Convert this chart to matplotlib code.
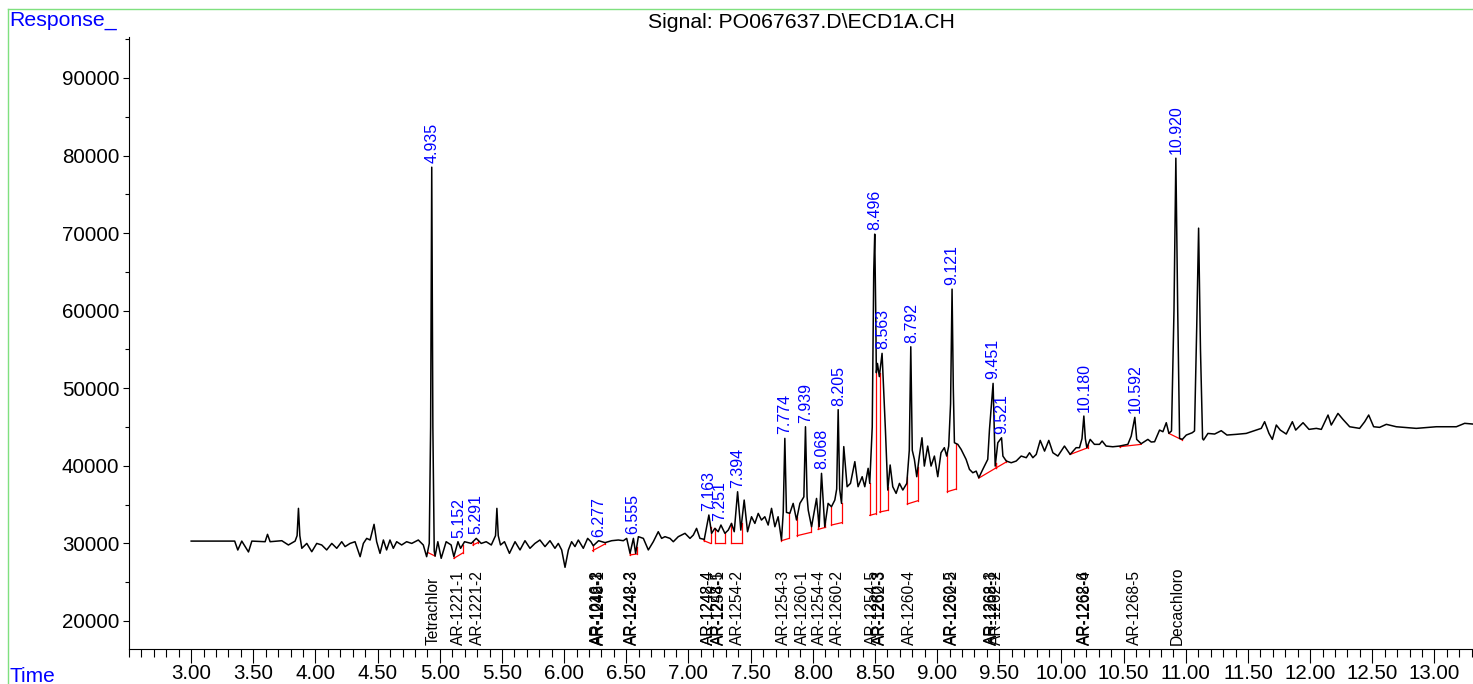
import numpy as np
import matplotlib
matplotlib.use("Agg")
import matplotlib.pyplot as plt
import matplotlib.transforms as mtransforms
from matplotlib.lines import Line2D
from matplotlib.ticker import MultipleLocator, FixedLocator, FormatStrFormatter

plt.rcParams["font.family"] = ["Liberation Sans", "DejaVu Sans"]

# chromatogram trace (min, response)
rt = [
    3.000, 3.350, 3.375, 3.407, 3.461, 3.488, 3.595, 3.614, 3.635, 3.729,
    3.782, 3.836, 3.852, 3.863, 3.874, 3.890, 3.930, 3.970, 4.010, 4.050,
    4.090, 4.131, 4.171, 4.211, 4.238, 4.278, 4.318, 4.359, 4.385, 4.412,
    4.439, 4.471, 4.492, 4.519, 4.546, 4.572, 4.599, 4.626, 4.653, 4.693,
    4.733, 4.774, 4.827, 4.867, 4.894, 4.915, 4.926, 4.935, 4.944, 4.955,
    4.962, 4.984, 5.011, 5.051, 5.091, 5.113, 5.146, 5.167, 5.199, 5.253,
    5.293, 5.333, 5.373, 5.414, 5.448, 5.459, 5.470, 5.488, 5.520, 5.560,
    5.605, 5.645, 5.685, 5.725, 5.765, 5.805, 5.846, 5.886, 5.926, 5.953,
    5.980, 6.007, 6.034, 6.060, 6.087, 6.114, 6.154, 6.189, 6.215, 6.234,
    6.277, 6.329, 6.382, 6.436, 6.476, 6.503, 6.530, 6.557, 6.575, 6.597,
    6.637, 6.677, 6.717, 6.757, 6.784, 6.811, 6.851, 6.878, 6.918, 6.972,
    7.012, 7.039, 7.065, 7.092, 7.127, 7.164, 7.186, 7.212, 7.239, 7.261,
    7.293, 7.320, 7.346, 7.368, 7.395, 7.421, 7.448, 7.475, 7.507, 7.534,
    7.561, 7.587, 7.614, 7.641, 7.668, 7.695, 7.721, 7.748, 7.762, 7.775,
    7.788, 7.815, 7.842, 7.869, 7.896, 7.928, 7.941, 7.954, 7.963, 7.990,
    8.030, 8.051, 8.070, 8.096, 8.123, 8.150, 8.177, 8.192, 8.204, 8.216,
    8.231, 8.249, 8.276, 8.303, 8.338, 8.364, 8.397, 8.418, 8.445, 8.458,
    8.478, 8.490, 8.498, 8.506, 8.511, 8.520, 8.535, 8.557, 8.575, 8.584,
    8.603, 8.622, 8.643, 8.670, 8.697, 8.724, 8.756, 8.776, 8.788, 8.800,
    8.817, 8.836, 8.857, 8.878, 8.897, 8.924, 8.951, 8.978, 9.005, 9.031,
    9.058, 9.077, 9.093, 9.108, 9.120, 9.130, 9.139, 9.166, 9.193, 9.233,
    9.260, 9.287, 9.314, 9.335, 9.367, 9.407, 9.421, 9.450, 9.467, 9.488,
    9.518, 9.529, 9.556, 9.596, 9.636, 9.676, 9.717, 9.743, 9.770, 9.797,
    9.829, 9.864, 9.898, 9.931, 9.971, 10.024, 10.070, 10.118, 10.145, 10.165,
    10.180, 10.192, 10.204, 10.231, 10.265, 10.306, 10.327, 10.359, 10.413, 10.467,
    10.534, 10.561, 10.590, 10.605, 10.641, 10.695, 10.722, 10.749, 10.789, 10.816,
    10.843, 10.864, 10.885, 10.905, 10.920, 10.935, 10.950, 10.972, 11.004, 11.052,
    11.070, 11.088, 11.103, 11.118, 11.135, 11.143, 11.178, 11.232, 11.285, 11.331,
    11.406, 11.486, 11.567, 11.607, 11.634, 11.669, 11.696, 11.728, 11.760, 11.808,
    11.857, 11.884, 11.943, 11.991, 12.050, 12.090, 12.144, 12.170, 12.224, 12.264,
    12.318, 12.398, 12.439, 12.471, 12.511, 12.559, 12.613, 12.693, 12.854, 13.015,
    13.176, 13.243, 13.307,
]
resp = [
    30300, 30300, 29150, 30300, 28900, 30300, 30220, 31170, 30220, 30350,
    29800, 30300, 31000, 34520, 31000, 29370, 30000, 28930, 30000, 29800,
    29160, 30000, 29370, 30220, 29590, 30000, 30220, 28290, 30000, 30650,
    30440, 32460, 30220, 28720, 30440, 29160, 30440, 29370, 30220, 29800,
    30220, 30000, 30440, 29800, 28290, 30000, 45000, 78500, 45000, 29000,
    28370, 30220, 28080, 30220, 29800, 28290, 30220, 29370, 30220, 30000,
    30650, 30000, 30220, 29800, 31000, 34520, 31000, 29800, 30220, 28720,
    30220, 29160, 30350, 29370, 30000, 30440, 29590, 30350, 29370, 30000,
    29160, 26920, 29160, 30220, 29590, 30440, 29370, 30650, 30220, 29700,
    30350, 30100, 30350, 30440, 30350, 30650, 28720, 30650, 28720, 30870,
    30650, 29160, 30220, 31510, 30650, 30870, 30650, 30220, 30870, 31300,
    30650, 31080, 31940, 30650, 30520, 33660, 31300, 31940, 31510, 32370,
    31300, 31720, 32580, 31510, 36660, 31720, 35590, 31510, 33440, 32580,
    33870, 33010, 33440, 32370, 34520, 32150, 33440, 30440, 34000, 43540,
    34000, 33880, 35160, 33020, 35160, 36000, 45040, 36000, 34300, 32150,
    35800, 32150, 39030, 32150, 35160, 34730, 35590, 37000, 47240, 37000,
    35160, 42480, 37310, 37740, 40540, 37310, 38600, 37310, 39680, 37740,
    45000, 65000, 69870, 60000, 52000, 53200, 51500, 54500, 48000, 44620,
    36880, 40110, 37310, 36450, 37740, 36880, 37740, 42000, 55350, 42000,
    40830, 38600, 41260, 43620, 39970, 42550, 39970, 41260, 38600, 41690,
    42340, 41260, 42550, 48000, 62780, 50000, 42980, 42770, 42120, 40830,
    39540, 39110, 39320, 38460, 39540, 40830, 44700, 50630, 39970, 42980,
    43620, 41260, 40620, 40400, 40620, 41260, 41050, 41690, 41050, 41470,
    43280, 41900, 43280, 41690, 41260, 42550, 41470, 42340, 42340, 43500,
    46420, 43500, 42340, 43410, 42770, 42770, 43200, 42550, 42460, 42550,
    42770, 43840, 46250, 43410, 42850, 43410, 43070, 43110, 44610, 44400,
    45560, 44180, 44500, 60000, 79660, 60000, 43540, 43410, 43970, 44270,
    44500, 58000, 70640, 55000, 43500, 43330, 44180, 44100, 44530, 43970,
    44060, 44180, 44610, 44830, 45690, 44180, 43410, 45260, 44610, 44100,
    45690, 44610, 45560, 44700, 44830, 44700, 46550, 45260, 46760, 45990,
    45040, 44830, 45690, 46550, 45040, 44960, 45350, 45040, 44830, 45040,
    45040, 45480, 45390,
]

# integrated peaks (blue retention time labels)
peak_rt = [4.935, 5.152, 5.291, 6.277, 6.555, 7.163, 7.251, 7.394, 7.774, 7.939,
           8.068, 8.205, 8.496, 8.563, 8.792, 9.121, 9.451, 9.521, 10.180, 10.592,
           10.920]
peak_lbl = ["4.935", "5.152", "5.291", "6.277", "6.555", "7.163", "7.251", "7.394",
            "7.774", "7.939", "8.068", "8.205", "8.496", "8.563", "8.792", "9.121",
            "9.451", "9.521", "10.180", "10.592", "10.920"]

# baselines drawn under the integrated peaks
bl_rt0 = [4.902, 5.113, 5.266, 6.229, 6.530, 7.124, 7.213, 7.346, 7.748, 7.874,
          8.043, 8.150, 8.458, 8.538, 8.760, 9.082, 9.335, 9.470, 10.070, 10.467,
          10.864]
bl_y0 = [28840, 28080, 29800, 29070, 28510, 30350, 30090, 30090, 30350, 31000,
         31810, 32370, 33620, 34050, 35080, 36670, 38420, 39700, 41470, 42460,
         44180]
bl_rt1 = [4.962, 5.185, 5.306, 6.329, 6.584, 7.178, 7.293, 7.427, 7.810, 7.984,
          8.102, 8.231, 8.511, 8.605, 8.846, 9.154, 9.470, 9.550, 10.212, 10.641,
          10.972]
bl_y1 = [28370, 28770, 30100, 29930, 28640, 30000, 30090, 30090, 30650, 31420,
         32070, 32670, 33840, 34270, 35510, 37010, 39700, 40440, 42340, 42770,
         43330]

# compound names along the bottom
cmpd_rt = [4.945, 5.146, 5.300, 6.270, 6.277, 6.281, 6.545, 6.552, 7.157, 7.163,
           7.245, 7.251, 7.390, 7.760, 7.920, 8.056, 8.200, 8.480, 8.540, 8.546,
           8.780, 9.118, 9.125, 9.440, 9.448, 9.480, 10.185, 10.190, 10.590, 10.930]
cmpd_name = ["Tetrachlor", "AR-1221-1", "AR-1221-2", "AR-1016-2", "AR-1242-3",
             "AR-1248-1", "AR-1242-2", "AR-1248-3", "AR-1242-4", "AR-1248-4",
             "AR-1248-5", "AR-1254-1", "AR-1254-2", "AR-1254-3", "AR-1260-1",
             "AR-1254-4", "AR-1260-2", "AR-1254-5", "AR-1260-3", "AR-1262-3",
             "AR-1260-4", "AR-1260-5", "AR-1262-2", "AR-1262-3", "AR-1268-1",
             "AR-1262-2", "AR-1262-6", "AR-1268-4", "AR-1268-5", "Decachloro"]

x_labels = ["3.00", "3.50", "4.00", "4.50", "5.00", "5.50", "6.00", "6.50", "7.00",
            "7.50", "8.00", "8.50", "9.00", "9.50", "10.00", "10.50", "11.00",
            "11.50", "12.00", "12.50", "13.00"]

W, H = 1473, 684
fig = plt.figure(figsize=(W / 100, H / 100), dpi=100)
ax = fig.add_axes([129 / W, 35 / H, 1 - 129 / W, (649 - 37) / H])

rt_a = np.array(rt)
resp_a = np.array(resp)
ax.plot(rt_a, resp_a, color="black", lw=1.1, zorder=3)

# red baselines with drop lines up to the trace
for t0, y0, t1, y1 in zip(bl_rt0, bl_y0, bl_rt1, bl_y1):
    ax.plot([t0, t1], [y0, y1], color="red", lw=0.9, zorder=2)
    for t, y in ((t0, y0), (t1, y1)):
        top = np.interp(t, rt_a, resp_a)
        ax.plot([t, t], [y, top], color="red", lw=0.9, zorder=2)

for t, lbl in zip(peak_rt, peak_lbl):
    near = np.abs(rt_a - t) < 0.014
    top = resp_a[near].max() if near.any() else np.interp(t, rt_a, resp_a)
    ax.annotate(lbl, xy=(t, top), xytext=(0, 3), textcoords="offset points",
                rotation=90, ha="center", va="bottom", color="blue", fontsize=11.5)

trans = mtransforms.blended_transform_factory(ax.transData, ax.transAxes)
for t, name in zip(cmpd_rt, cmpd_name):
    ax.text(t, 0.006, name, transform=trans, rotation=90, ha="center",
            va="bottom", fontsize=11.2, color="black")

ax.set_xlim(2.5, 13.31)
ax.set_ylim(16390, 95280)
ax.spines["top"].set_visible(False)
ax.spines["right"].set_visible(False)
ax.xaxis.set_major_locator(FixedLocator([float(s) for s in x_labels]))
ax.xaxis.set_major_formatter(FormatStrFormatter("%.2f"))
ax.xaxis.set_minor_locator(MultipleLocator(0.1))
ax.yaxis.set_major_locator(FixedLocator(np.arange(20000, 90001, 10000)))
ax.yaxis.set_minor_locator(MultipleLocator(5000))
ax.tick_params(axis="x", which="major", length=10, width=0.8, pad=1, labelsize=14.8)
ax.tick_params(axis="x", which="minor", length=6, width=0.8)
ax.tick_params(axis="y", which="major", length=4, width=0.8, pad=3, labelsize=14.8)
ax.tick_params(axis="y", which="minor", length=3, width=0.8)

fig.text(801 / W, 1 - 22 / H, "Signal: PO067637.D\\ECD1A.CH", ha="center",
         va="center", fontsize=15.3)
fig.text(9 / W, 1 - 21 / H, "Response_", ha="left", va="center", fontsize=15.3,
         color="blue")
fig.text(9 / W, 1 - 677 / H, "Time", ha="left", va="center", fontsize=15.0,
         color="blue")

# light green frame
fig.add_artist(Line2D([8 / W, 1], [1 - 9 / H, 1 - 9 / H], color="#7fe07f", lw=1))
fig.add_artist(Line2D([8 / W, 8 / W], [0, 1 - 9 / H], color="#7fe07f", lw=1))

fig.savefig("out.png", dpi=100)
